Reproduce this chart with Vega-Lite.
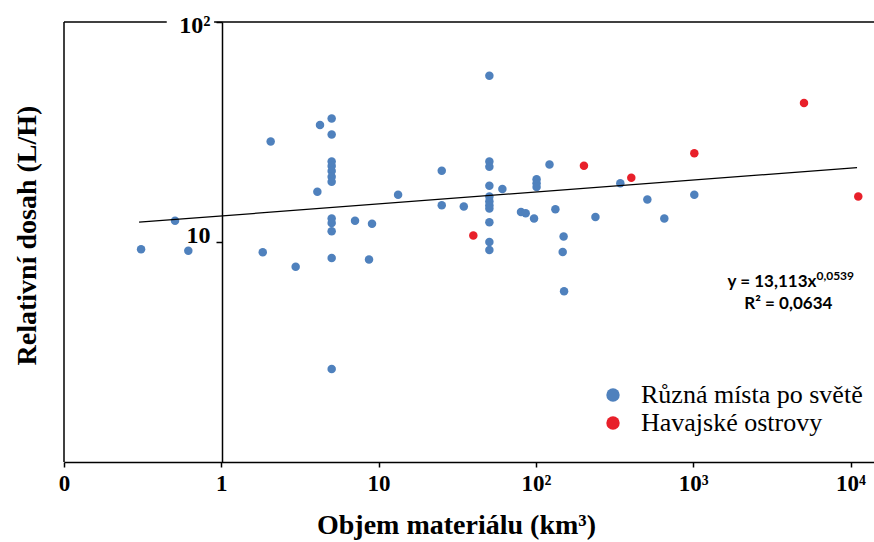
{
  "$schema": "https://vega.github.io/schema/vega-lite/v6.json",
  "width": 810,
  "height": 440,
  "autosize": {"type": "none"},
  "padding": {"left": 64, "top": 22, "right": 0, "bottom": 80},
  "background": "white",
  "config": {"view": {"stroke": null}, "font": "serif"},
  "datasets": {
    "pts": [
      {"objem": 0.309, "dosah": 9.26, "skupina": "Různá místa po světě"},
      {"objem": 0.508, "dosah": 12.5, "skupina": "Různá místa po světě"},
      {"objem": 0.617, "dosah": 9.13, "skupina": "Různá místa po světě"},
      {"objem": 1.834, "dosah": 8.98, "skupina": "Různá místa po světě"},
      {"objem": 2.06, "dosah": 28.6, "skupina": "Různá místa po světě"},
      {"objem": 2.97, "dosah": 7.72, "skupina": "Různá místa po světě"},
      {"objem": 4.08, "dosah": 16.9, "skupina": "Různá místa po světě"},
      {"objem": 4.24, "dosah": 34.0, "skupina": "Různá místa po světě"},
      {"objem": 5.03, "dosah": 36.4, "skupina": "Různá místa po světě"},
      {"objem": 5.03, "dosah": 30.8, "skupina": "Různá místa po světě"},
      {"objem": 5.03, "dosah": 23.2, "skupina": "Různá místa po světě"},
      {"objem": 5.03, "dosah": 22.15, "skupina": "Různá místa po světě"},
      {"objem": 5.03, "dosah": 21.0, "skupina": "Různá místa po světě"},
      {"objem": 5.03, "dosah": 19.8, "skupina": "Různá místa po světě"},
      {"objem": 5.03, "dosah": 18.8, "skupina": "Různá místa po světě"},
      {"objem": 5.03, "dosah": 12.8, "skupina": "Různá místa po světě"},
      {"objem": 5.03, "dosah": 12.2, "skupina": "Různá místa po světě"},
      {"objem": 5.03, "dosah": 11.2, "skupina": "Různá místa po světě"},
      {"objem": 5.03, "dosah": 8.45, "skupina": "Různá místa po světě"},
      {"objem": 5.03, "dosah": 2.65, "skupina": "Různá místa po světě"},
      {"objem": 7.08, "dosah": 12.5, "skupina": "Různá místa po světě"},
      {"objem": 9.08, "dosah": 12.1, "skupina": "Různá místa po světě"},
      {"objem": 8.69, "dosah": 8.33, "skupina": "Různá místa po světě"},
      {"objem": 13.3, "dosah": 16.4, "skupina": "Různá místa po světě"},
      {"objem": 25.2, "dosah": 21.1, "skupina": "Různá místa po světě"},
      {"objem": 25.2, "dosah": 14.7, "skupina": "Různá místa po světě"},
      {"objem": 34.8, "dosah": 14.5, "skupina": "Různá místa po světě"},
      {"objem": 50.6, "dosah": 57.0, "skupina": "Různá místa po světě"},
      {"objem": 50.6, "dosah": 23.2, "skupina": "Různá místa po světě"},
      {"objem": 50.6, "dosah": 22.0, "skupina": "Různá místa po světě"},
      {"objem": 50.6, "dosah": 18.0, "skupina": "Různá místa po světě"},
      {"objem": 50.6, "dosah": 16.1, "skupina": "Různá místa po světě"},
      {"objem": 50.6, "dosah": 15.3, "skupina": "Různá místa po světě"},
      {"objem": 50.6, "dosah": 14.7, "skupina": "Různá místa po světě"},
      {"objem": 50.6, "dosah": 14.2, "skupina": "Různá místa po světě"},
      {"objem": 50.6, "dosah": 12.3, "skupina": "Různá místa po světě"},
      {"objem": 50.6, "dosah": 10.0, "skupina": "Různá místa po světě"},
      {"objem": 50.6, "dosah": 9.2, "skupina": "Různá místa po světě"},
      {"objem": 61.2, "dosah": 17.4, "skupina": "Různá místa po světě"},
      {"objem": 80.4, "dosah": 13.7, "skupina": "Různá místa po světě"},
      {"objem": 86.1, "dosah": 13.5, "skupina": "Různá místa po světě"},
      {"objem": 97.3, "dosah": 12.8, "skupina": "Různá místa po světě"},
      {"objem": 101, "dosah": 19.3, "skupina": "Různá místa po světě"},
      {"objem": 101, "dosah": 18.5, "skupina": "Různá místa po světě"},
      {"objem": 101, "dosah": 17.8, "skupina": "Různá místa po světě"},
      {"objem": 122, "dosah": 22.5, "skupina": "Různá místa po světě"},
      {"objem": 133, "dosah": 14.1, "skupina": "Různá místa po světě"},
      {"objem": 150, "dosah": 10.6, "skupina": "Různá místa po světě"},
      {"objem": 148, "dosah": 9.0, "skupina": "Různá místa po světě"},
      {"objem": 151, "dosah": 5.97, "skupina": "Různá místa po světě"},
      {"objem": 239, "dosah": 13.0, "skupina": "Různá místa po světě"},
      {"objem": 344, "dosah": 18.5, "skupina": "Různá místa po světě"},
      {"objem": 511, "dosah": 15.6, "skupina": "Různá místa po světě"},
      {"objem": 655, "dosah": 12.8, "skupina": "Různá místa po světě"},
      {"objem": 1016, "dosah": 16.4, "skupina": "Různá místa po světě"},
      {"objem": 40.0, "dosah": 10.7, "skupina": "Havajské ostrovy"},
      {"objem": 202, "dosah": 22.2, "skupina": "Havajské ostrovy"},
      {"objem": 404, "dosah": 19.6, "skupina": "Havajské ostrovy"},
      {"objem": 1016, "dosah": 25.3, "skupina": "Havajské ostrovy"},
      {"objem": 5060, "dosah": 42.8, "skupina": "Havajské ostrovy"},
      {"objem": 11200, "dosah": 16.1, "skupina": "Havajské ostrovy"}
    ],
    "trend": [
      {"objem": 0.3, "dosah": 12.3},
      {"objem": 11000, "dosah": 21.8}
    ]
  },
  "layer": [
    {
      "data": {"name": "pts"},
      "mark": {"type": "circle", "size": 72, "opacity": 1},
      "encoding": {
        "x": {
          "field": "objem", "type": "quantitative",
          "scale": {"type": "log", "domain": [0.1, 14100], "nice": false},
          "axis": {
            "values": [0.1, 1, 10, 100, 1000, 10000],
            "labelExpr": "datum.value < 0.5 ? '0' : datum.value < 5 ? '1' : datum.value < 50 ? '10' : datum.value < 500 ? '10²' : datum.value < 5000 ? '10³' : '10⁴'",
            "grid": false,
            "labelFont": "serif", "labelFontWeight": "bold", "labelFontSize": 23, "labelColor": "black",
            "labelFlush": false, "labelOverlap": false, "labelBound": false, "labelPadding": 5,
            "domainColor": "black", "domainWidth": 1.5,
            "tickColor": "black", "tickWidth": 1.5, "tickSize": 5,
            "title": "Objem materiálu (km³)",
            "titleFont": "serif", "titleFontSize": 28, "titleFontWeight": "bold", "titleColor": "black",
            "titlePadding": 16, "titleX": 392, "titleAlign": "center"
          }
        },
        "y": {
          "field": "dosah", "type": "quantitative",
          "scale": {"type": "log", "domain": [1, 100], "nice": false},
          "axis": {
            "values": [10, 100],
            "labelExpr": "datum.value > 50 ? '10²' : '10'",
            "offset": -158,
            "grid": false,
            "labelFont": "serif", "labelFontWeight": "bold", "labelFontSize": 24, "labelColor": "black",
            "labelFlush": false, "labelOverlap": false, "labelPadding": 6,
            "labelOffset": {"condition": {"test": "datum.value > 50", "value": 3}, "value": -7},
            "domainColor": "black", "domainWidth": 1.5,
            "tickColor": "black", "tickWidth": 1.5, "tickSize": 6,
            "title": "Relativní dosah (L/H)",
            "titleFont": "serif", "titleFontSize": 28, "titleFontWeight": "bold", "titleColor": "black",
            "titleAngle": -90, "titleX": -195, "titleY": 213, "titleAlign": "center", "titleBaseline": "middle"
          }
        },
        "color": {
          "field": "skupina", "type": "nominal",
          "scale": {"domain": ["Různá místa po světě", "Havajské ostrovy"], "range": ["#4f81bd", "#e8202a"]},
          "legend": {
            "orient": "none", "legendX": 536, "legendY": 360, "title": null,
            "symbolType": "circle", "symbolSize": 180, "symbolStrokeWidth": 0,
            "labelFont": "serif", "labelFontSize": 26, "labelColor": "black",
            "labelOffset": 15, "rowPadding": 2, "padding": 0, "labelLimit": 400
          }
        }
      }
    },
    {
      "data": {"values": [{}]},
      "mark": {"type": "rule", "color": "black", "strokeWidth": 1.5},
      "encoding": {
        "x": {"datum": 0.1, "type": "quantitative"}
      }
    },
    {
      "data": {"values": [{}]},
      "mark": {"type": "rule", "color": "black", "strokeWidth": 1.5},
      "encoding": {
        "x": {"datum": 0.1, "type": "quantitative"},
        "x2": {"datum": 0.45},
        "y": {"datum": 100, "type": "quantitative"}
      }
    },
    {
      "data": {"values": [{}]},
      "mark": {"type": "rule", "color": "black", "strokeWidth": 1.5},
      "encoding": {
        "x": {"datum": 0.9, "type": "quantitative"},
        "x2": {"datum": 14100},
        "y": {"datum": 100, "type": "quantitative"}
      }
    },
    {
      "data": {"name": "trend"},
      "mark": {"type": "line", "color": "black", "strokeWidth": 1.3},
      "encoding": {
        "x": {"field": "objem", "type": "quantitative"},
        "y": {"field": "dosah", "type": "quantitative"}
      }
    },
    {
      "data": {"values": [{}]},
      "mark": {"type": "text", "text": "y = 13,113x", "align": "right", "baseline": "middle", "font": "Lato", "fontWeight": "bold", "fontSize": 17, "color": "black"},
      "encoding": {
        "x": {"datum": 6070, "type": "quantitative"},
        "y": {"datum": 6.58, "type": "quantitative"}
      }
    },
    {
      "data": {"values": [{}]},
      "mark": {"type": "text", "text": "0,0539", "align": "left", "baseline": "middle", "font": "Lato", "fontWeight": "bold", "fontSize": 12, "color": "black"},
      "encoding": {
        "x": {"datum": 6070, "type": "quantitative"},
        "y": {"datum": 7.0, "type": "quantitative"}
      }
    },
    {
      "data": {"values": [{}]},
      "mark": {"type": "text", "text": "R² = 0,0634", "align": "center", "baseline": "middle", "font": "Lato", "fontWeight": "bold", "fontSize": 17, "color": "black"},
      "encoding": {
        "x": {"datum": 4025, "type": "quantitative"},
        "y": {"datum": 5.2, "type": "quantitative"}
      }
    }
  ]
}
